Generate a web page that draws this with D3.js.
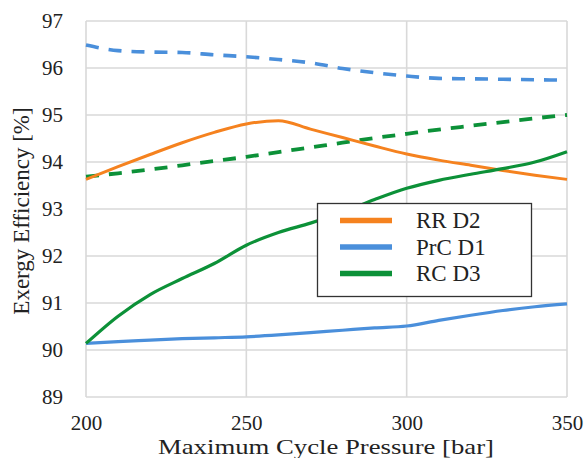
<!DOCTYPE html>
<html>
<head>
<meta charset="utf-8">
<script src="https://cdn.jsdelivr.net/npm/d3@7"></script>
<style>
  html, body { margin: 0; padding: 0; background: #fff; }
  svg { display: block; }
  text { font-family: "Liberation Serif", "DejaVu Serif", serif; fill: #222; }
</style>
</head>
<body>
<svg id="chart" width="587" height="458"></svg>
<script>
// Maximum cycle pressure [bar]
const pressure = [200, 210, 220, 230, 240, 250, 260, 270, 280, 290, 300, 310, 320, 330, 340, 350];

// Exergy efficiency [%] - solid lines (shown in legend)
const rrD2  = [93.63, 93.90, 94.16, 94.41, 94.63, 94.81, 94.88, 94.70, 94.52, 94.34, 94.17, 94.04, 93.93, 93.82, 93.72, 93.63];
const prcD1 = [90.14, 90.18, 90.21, 90.24, 90.26, 90.28, 90.32, 90.37, 90.42, 90.47, 90.51, 90.63, 90.74, 90.84, 90.92, 90.98];
const rcD3  = [90.14, 90.72, 91.18, 91.52, 91.84, 92.23, 92.50, 92.70, 92.93, 93.20, 93.44, 93.61, 93.74, 93.86, 94.00, 94.22];

// Exergy efficiency [%] - dashed companion lines
const prcD1Dashed = [96.49, 96.37, 96.34, 96.33, 96.28, 96.24, 96.18, 96.11, 95.99, 95.90, 95.83, 95.78, 95.77, 95.76, 95.75, 95.74];
const rcD3Dashed  = [93.69, 93.76, 93.84, 93.93, 94.02, 94.11, 94.21, 94.31, 94.41, 94.51, 94.60, 94.69, 94.77, 94.85, 94.93, 95.00];

const xTicks = [200, 250, 300, 350];
const yTicks = [89, 90, 91, 92, 93, 94, 95, 96, 97];

const legendNames = ["RR D2", "PrC D1", "RC D3"];

const colors = { orange: "#F5821F", blue: "#4A8FDB", green: "#0C9138" };

const svg = d3.select("#chart");
const plot = { left: 86, right: 567, top: 21, bottom: 397 };

const x = d3.scaleLinear().domain([200, 350]).range([plot.left, plot.right]);
const y = d3.scaleLinear().domain([89, 97]).range([plot.bottom, plot.top]);

// gridlines and frame
const grid = svg.append("g").attr("stroke", "#D9D9D9").attr("stroke-width", 1.6);
grid.selectAll("line.h").data(yTicks).join("line")
  .attr("x1", plot.left).attr("x2", plot.right)
  .attr("y1", d => y(d)).attr("y2", d => y(d));
grid.selectAll("line.v").data(xTicks).join("line")
  .attr("y1", plot.top).attr("y2", plot.bottom)
  .attr("x1", d => x(d)).attr("x2", d => x(d));

// axes (labels only; lines come from the grid)
const yAxis = svg.append("g")
  .attr("transform", `translate(${plot.left - 23},0)`)
  .call(d3.axisLeft(y).tickValues(yTicks).tickSize(0).tickPadding(0).tickFormat(d3.format("d")));
yAxis.select(".domain").remove();
yAxis.selectAll("text").attr("font-size", 21).attr("font-family", "Liberation Serif").attr("fill", "#222");

const xAxis = svg.append("g")
  .attr("transform", `translate(0,${plot.bottom})`)
  .call(d3.axisBottom(x).tickValues(xTicks).tickSize(0).tickPadding(0).tickFormat(d3.format("d")));
xAxis.select(".domain").remove();
xAxis.selectAll("text").attr("font-size", 21).attr("font-family", "Liberation Serif").attr("fill", "#222")
  .attr("dy", null).attr("y", 33);

// series lines
const line = d3.line()
  .x((d, i) => x(pressure[i]))
  .y(d => y(d))
  .curve(d3.curveMonotoneX);

const series = [
  { values: prcD1Dashed, color: colors.blue,   width: 3.6, dash: "13,10" },
  { values: rcD3Dashed,  color: colors.green,  width: 3.8, dash: "13,10" },
  { values: rrD2,        color: colors.orange, width: 3,   dash: null },
  { values: prcD1,       color: colors.blue,   width: 3.2, dash: null },
  { values: rcD3,        color: colors.green,  width: 3.2, dash: null }
];

svg.append("g").selectAll("path").data(series).join("path")
  .attr("d", d => line(d.values))
  .attr("fill", "none")
  .attr("stroke", d => d.color)
  .attr("stroke-width", d => d.width)
  .attr("stroke-dasharray", d => d.dash)
  .attr("stroke-linejoin", "round");

// legend
const legend = svg.append("g");
legend.append("rect")
  .attr("x", 317.5).attr("y", 203.5).attr("width", 214).attr("height", 93)
  .attr("fill", "#fff").attr("stroke", "#333").attr("stroke-width", 1.3);
const legendColors = [colors.orange, colors.blue, colors.green];
const rows = legend.selectAll("g.row").data(legendNames).join("g")
  .attr("transform", (d, i) => `translate(0,${220.5 + i * 26.5})`);
rows.append("line")
  .attr("x1", 340).attr("x2", 392).attr("y1", 0).attr("y2", 0)
  .attr("stroke", (d, i) => legendColors[i]).attr("stroke-width", 5.5);
rows.append("text")
  .attr("x", 416).attr("y", 7.5)
  .attr("font-size", 23)
  .text(d => d);

// axis titles
svg.append("text")
  .attr("x", 326).attr("y", 454)
  .attr("text-anchor", "middle").attr("font-size", 22)
  .attr("textLength", 336).attr("lengthAdjust", "spacingAndGlyphs")
  .text("Maximum Cycle Pressure [bar]");
svg.append("text")
  .attr("transform", "translate(29,211) rotate(-90)")
  .attr("text-anchor", "middle").attr("font-size", 23)
  .text("Exergy Efficiency [%]");
</script>
</body>
</html>
